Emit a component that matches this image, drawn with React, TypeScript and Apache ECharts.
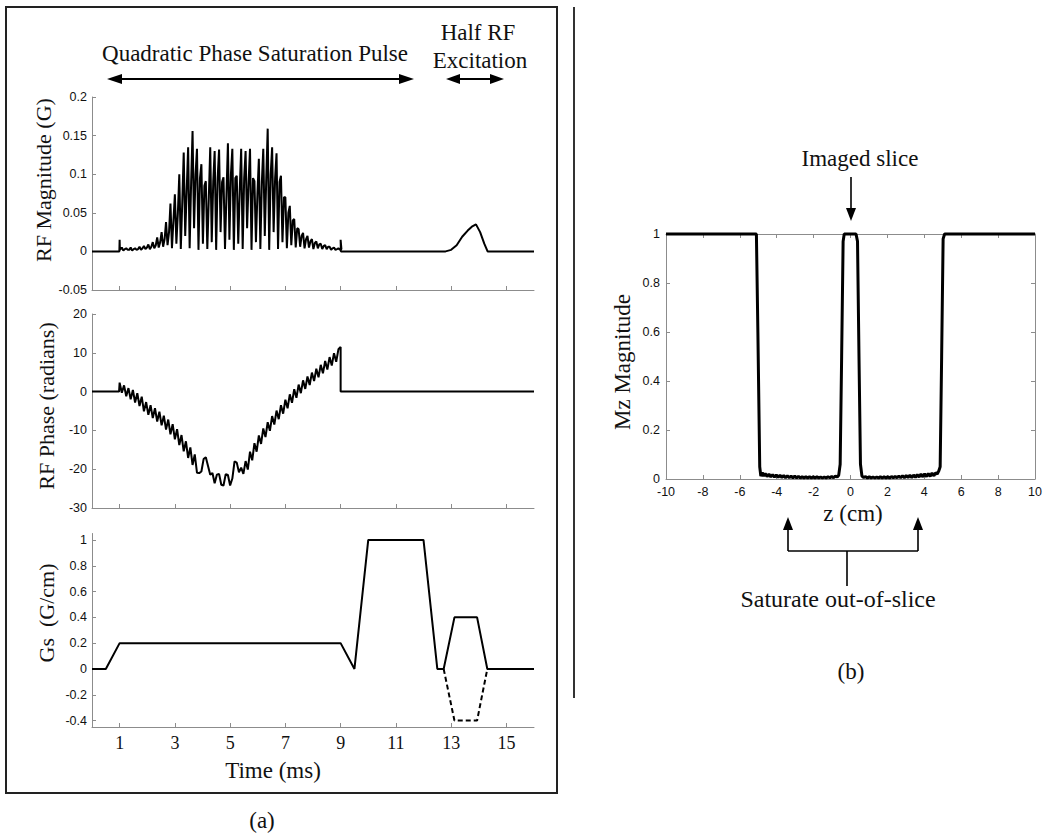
import React, { useEffect, useRef } from "react";
import * as echarts from "echarts";

const SERIF = '"Liberation Serif", "Times New Roman", serif';
const SANS = '"Liberation Sans", Arial, sans-serif';
const AXIS_GRAY = "#8c8c8c";

// ---------- Panel (a) data ----------
const timeTicks = [1, 3, 5, 7, 9, 11, 13, 15];
const gsTicks = [-0.4, -0.2, 0, 0.2, 0.4, 0.6, 0.8, 1];

// RF magnitude: peaks / troughs / shoulders of the saturation pulse, one cycle per 0.16 ms from 1.08 ms
const magStart = 1.08;
const magStep = 0.16;
const magPeaks = [
  0.005, 0.004, 0.005, 0.004, 0.006, 0.007, 0.009, 0.012, 0.018, 0.025,
  0.038, 0.062, 0.074, 0.1, 0.128, 0.135, 0.156, 0.133, 0.113, 0.091,
  0.135, 0.13, 0.132, 0.096, 0.14, 0.133, 0.098, 0.133, 0.13, 0.133,
  0.091, 0.12, 0.133, 0.159, 0.135, 0.127, 0.098, 0.07, 0.059, 0.042,
  0.029, 0.024, 0.02, 0.016, 0.013, 0.01, 0.008, 0.006, 0.005, 0.004,
];
const magTroughs = [
  0.001, 0.002, 0.001, 0.002, 0.002, 0.003, 0.003, 0.004, 0.005, 0.006,
  0.008, 0.004, 0.01, 0.003, 0.02, 0.004, 0.03, 0.002, 0.01, 0.003,
  0.012, 0.002, 0.025, 0.003, 0.015, 0.002, 0.01, 0.003, 0.03, 0.002,
  0.012, 0.003, 0.02, 0.002, 0.025, 0.003, 0.012, 0.004, 0.008, 0.005,
  0.006, 0.004, 0.005, 0.003, 0.004, 0.003, 0.003, 0.002, 0.002, 0.002,
];
const magShoulders = [
  0.003, 0.002, 0.003, 0.003, 0.004, 0.005, 0.006, 0.008, 0.012, 0.016,
  0.025, 0.04, 0.05, 0.065, 0.08, 0.09, 0.1, 0.095, 0.085, 0.07,
  0.09, 0.095, 0.09, 0.075, 0.1, 0.095, 0.08, 0.095, 0.09, 0.095,
  0.075, 0.09, 0.095, 0.1, 0.095, 0.09, 0.07, 0.05, 0.04, 0.03,
  0.02, 0.016, 0.013, 0.011, 0.009, 0.007, 0.006, 0.004, 0.003, 0.003,
];
const magEdgeSpike = 0.015;
// Half RF excitation pulse
const hrfT = [12.8, 13.0, 13.2, 13.4, 13.6, 13.75, 13.9, 14.05, 14.2, 14.32];
const hrfV = [0, 0.002, 0.008, 0.019, 0.027, 0.032, 0.035, 0.025, 0.01, 0];

// RF phase, sampled every 0.08 ms from 1.0 ms to 9.0 ms
const phaseStart = 1.0;
const phaseStep = 0.08;
const phaseWave = [
  2.3, -0.3, 1.6, -1.2, 0.9, -2.0, 0.4, -2.8, -0.4, -3.7,
  -1.3, -5.1, -2.7, -6.0, -3.5, -6.8, -4.3, -7.7, -5.2, -8.7,
  -6.2, -9.8, -7.2, -11.0, -8.4, -12.3, -9.7, -13.8, -11.2, -15.4,
  -12.8, -17.1, -14.4, -18.9, -16.2, -20.9, -21.0, -20.6, -17.4, -16.9,
  -19.2, -21.4, -21.0, -23.6, -21.4, -21.2, -24.0, -24.2, -21.3, -21.5,
  -24.2, -22.4, -18.0, -18.3, -20.8, -19.6, -21.2, -17.9, -20.1, -15.5,
  -17.7, -13.3, -15.5, -11.3, -13.5, -9.5, -11.7, -7.9, -10.1, -6.3,
  -8.5, -4.9, -7.1, -3.5, -5.7, -2.1, -4.3, -0.7, -2.9, 0.6,
  -1.6, 1.8, -0.4, 2.9, 0.7, 3.9, 1.7, 4.9, 2.7, 5.9,
  3.7, 6.9, 4.7, 7.9, 5.7, 8.9, 6.7, 9.9, 7.7, 10.9,
  11.5,
];

// Slice gradient
const gsT = [0, 0.5, 1.0, 9.0, 9.5, 10.0, 12.0, 12.5, 12.73, 13.12, 13.94, 14.31, 16];
const gsV = [0, 0, 0.2, 0.2, 0, 1, 1, 0, 0, 0.4, 0.4, 0, 0];
const gsAltT = [12.73, 13.12, 13.94, 14.31];
const gsAltV = [0, -0.4, -0.4, 0];

// ---------- Panel (b) data ----------
const mzZ = [
  -10, -5.1, -5.02, -4.92, -4.86,
  -4.78, -4.7, -4.62, -4.52, -4.42, -4.32, -4.22, -4.12, -4.02, -3.92,
  -3.82, -3.72, -3.62, -3.52, -3.42, -3.32, -3.22, -3.12, -3.02, -2.92,
  -2.82, -2.72, -2.62, -2.52, -2.42, -2.32, -2.22, -2.12, -2.02, -1.92,
  -1.82, -1.72, -1.62, -1.52, -1.42, -1.32, -1.22, -1.12, -1.02, -0.92,
  -0.82, -0.72, -0.64,
  -0.56, -0.48, -0.4, -0.34, 0.3, 0.38, 0.46, 0.54,
  0.62, 0.72, 0.82, 0.92, 1.02, 1.12, 1.22, 1.32, 1.42, 1.52,
  1.62, 1.72, 1.82, 1.92, 2.02, 2.12, 2.22, 2.32, 2.42, 2.52,
  2.62, 2.72, 2.82, 2.92, 3.02, 3.12, 3.22, 3.32, 3.42, 3.52,
  3.62, 3.72, 3.82, 3.92, 4.02, 4.12, 4.22, 4.32, 4.42, 4.52,
  4.62, 4.7, 4.78, 4.86, 4.94, 5.02, 5.1, 10,
];
const mzV = [
  1, 1, 0.6, 0.05, 0.012,
  0.026, 0.012, 0.022, 0.01, 0.02, 0.009, 0.018, 0.008, 0.016, 0.007,
  0.015, 0.006, 0.014, 0.005, 0.013, 0.005, 0.012, 0.004, 0.012, 0.004,
  0.011, 0.004, 0.01, 0.004, 0.01, 0.004, 0.009, 0.004, 0.009, 0.004,
  0.009, 0.004, 0.008, 0.004, 0.008, 0.004, 0.009, 0.005, 0.01, 0.005,
  0.012, 0.008, 0.015,
  0.06, 0.5, 0.97, 1, 1, 0.97, 0.5, 0.06,
  0.012, 0.006, 0.01, 0.004, 0.009, 0.004, 0.008, 0.004, 0.008, 0.004,
  0.009, 0.004, 0.009, 0.004, 0.01, 0.004, 0.01, 0.005, 0.011, 0.005,
  0.012, 0.005, 0.013, 0.005, 0.014, 0.006, 0.015, 0.006, 0.016, 0.007,
  0.018, 0.008, 0.02, 0.009, 0.021, 0.01, 0.022, 0.011, 0.024, 0.013,
  0.026, 0.02, 0.032, 0.05, 0.5, 0.98, 1, 1,
];

// ---------- build series data ----------
function buildMag(): number[][] {
  const pts: number[][] = [[0, 0], [0.99, 0], [1.0, magEdgeSpike], [1.01, 0.002]];
  magPeaks.forEach((p, i) => {
    const t = magStart + i * magStep;
    pts.push([t, p]);
    pts.push([t + magStep * 0.34, magTroughs[i]]);
    pts.push([t + magStep * 0.68, magShoulders[i]]);
  });
  pts.push([9.0, magEdgeSpike], [9.01, 0], [hrfT[0], 0]);
  hrfT.forEach((t, i) => pts.push([t, hrfV[i]]));
  pts.push([16, 0]);
  return pts;
}
function buildPhase(): number[][] {
  const pts: number[][] = [[0, 0], [0.98, 0]];
  phaseWave.forEach((v, i) => pts.push([phaseStart + i * phaseStep, v]));
  pts.push([9.0, 0], [16, 0]);
  return pts;
}
const zip = (a: number[], b: number[]) => a.map((x, i) => [x, b[i]]);

// ---------- graphic helpers ----------
function hArrow(x1: number, x2: number, y: number, hl = 15, hw = 5, lw = 2) {
  return [
    { type: "line", shape: { x1: x1 + hl - 2, y1: y, x2: x2 - hl + 2, y2: y }, style: { stroke: "#000", lineWidth: lw } },
    { type: "polygon", shape: { points: [[x1, y], [x1 + hl, y - hw], [x1 + hl, y + hw]] }, style: { fill: "#000" } },
    { type: "polygon", shape: { points: [[x2, y], [x2 - hl, y - hw], [x2 - hl, y + hw]] }, style: { fill: "#000" } },
  ];
}
function vArrow(x: number, yTail: number, yTip: number, hl = 13, hw = 5, lw = 1.6) {
  const dir = yTip > yTail ? 1 : -1;
  return [
    { type: "line", shape: { x1: x, y1: yTail, x2: x, y2: yTip - dir * (hl - 2) }, style: { stroke: "#000", lineWidth: lw } },
    { type: "polygon", shape: { points: [[x, yTip], [x - hw, yTip - dir * hl], [x + hw, yTip - dir * hl]] }, style: { fill: "#000" } },
  ];
}
function txt(text: string, x: number, y: number, size: number, rotation = 0) {
  return {
    type: "text",
    x,
    y,
    rotation,
    style: { text, font: `${size}px ${SERIF}`, fill: "#111", align: "center", verticalAlign: "middle" },
  };
}

const fmt = (v: number) => String(parseFloat(v.toFixed(2)));

function timeAxis(gridIndex: number, labels: boolean) {
  return {
    type: "value",
    gridIndex,
    min: 0,
    max: 16,
    axisLine: { show: true, onZero: false, lineStyle: { color: AXIS_GRAY, width: 1 } },
    axisTick: { show: true, inside: true, length: 4, customValues: timeTicks, lineStyle: { color: AXIS_GRAY } },
    axisLabel: {
      show: labels,
      customValues: timeTicks,
      fontFamily: SERIF,
      fontSize: 18,
      color: "#111",
      margin: 7,
    },
    splitLine: { show: false },
  };
}
function yAx(gridIndex: number, extra: any) {
  return {
    type: "value",
    gridIndex,
    axisLine: { show: true, onZero: false, lineStyle: { color: AXIS_GRAY, width: 1 } },
    axisTick: { show: true, inside: true, length: 4, lineStyle: { color: AXIS_GRAY } },
    axisLabel: { fontFamily: SANS, fontSize: 12.5, color: "#111", margin: 5, formatter: fmt },
    splitLine: { show: false },
    ...extra,
  };
}

export default function App() {
  const ref = useRef<HTMLDivElement>(null);
  useEffect(() => {
    if (!ref.current) return;
    const chart = echarts.init(ref.current, undefined, { renderer: "svg" });
    const line = (xi: number, data: number[][], width: number, extra: any = {}) => ({
      type: "line",
      xAxisIndex: xi,
      yAxisIndex: xi,
      data,
      showSymbol: false,
      symbol: "none",
      sampling: undefined,
      lineStyle: { color: "#000", width },
      ...extra,
    });
    const option: any = {
      animation: false,
      backgroundColor: "#fff",
      grid: [
        { left: 92, top: 97, width: 442, height: 193 },
        { left: 92, top: 314, width: 442, height: 194 },
        { left: 92, top: 533.5, width: 442, height: 193.5 },
        { left: 666, top: 234, width: 369, height: 245 },
      ],
      xAxis: [
        timeAxis(0, false),
        timeAxis(1, false),
        timeAxis(2, true),
        {
          type: "value",
          gridIndex: 3,
          min: -10,
          max: 10,
          interval: 2,
          axisLine: { show: true, onZero: false, lineStyle: { color: AXIS_GRAY } },
          axisTick: { show: true, inside: true, length: 4, lineStyle: { color: AXIS_GRAY } },
          axisLabel: { fontFamily: SANS, fontSize: 12.5, color: "#111", margin: 6 },
          splitLine: { show: false },
        },
        {
          type: "value",
          gridIndex: 3,
          position: "top",
          min: -10,
          max: 10,
          interval: 2,
          axisLine: { show: true, onZero: false, lineStyle: { color: AXIS_GRAY } },
          axisTick: { show: true, inside: true, length: 4, lineStyle: { color: AXIS_GRAY } },
          axisLabel: { show: false },
          splitLine: { show: false },
        },
      ],
      yAxis: [
        yAx(0, { min: -0.05, max: 0.2, interval: 0.05 }),
        yAx(1, { min: -30, max: 20, interval: 10 }),
        yAx(2, {
          min: -0.45,
          max: 1.05,
          axisTick: { show: true, inside: true, length: 4, customValues: gsTicks, lineStyle: { color: AXIS_GRAY } },
          axisLabel: { fontFamily: SANS, fontSize: 12.5, color: "#111", margin: 5, customValues: gsTicks, formatter: fmt },
        }),
        yAx(3, { min: 0, max: 1, interval: 0.2, axisLabel: { fontFamily: SANS, fontSize: 12.5, color: "#111", margin: 6, formatter: fmt } }),
        yAx(3, { min: 0, max: 1, interval: 0.2, position: "right", axisLabel: { show: false } }),
      ],
      series: [
        line(0, buildMag(), 2),
        line(1, buildPhase(), 2),
        line(2, zip(gsT, gsV), 2),
        line(2, zip(gsAltT, gsAltV), 2, { lineStyle: { color: "#000", width: 2, type: [5, 3] } }),
        line(3, zip(mzZ, mzV), 3, { clip: false }),
      ],
      graphic: [
        { type: "rect", shape: { x: 6, y: 7, width: 551, height: 786 }, style: { fill: "none", stroke: "#222", lineWidth: 2 } },
        { type: "line", shape: { x1: 574, y1: 7, x2: 574, y2: 698 }, style: { stroke: "#333", lineWidth: 2 } },
        txt("Quadratic Phase Saturation Pulse", 255, 53, 23),
        ...hArrow(107, 414, 79),
        txt("Half RF", 478, 32, 23),
        txt("Excitation", 480, 60, 23),
        ...hArrow(446, 504, 79, 14),
        txt("RF Magnitude (G)", 43, 180, 22, Math.PI / 2),
        txt("RF Phase (radians)", 46, 406, 22, Math.PI / 2),
        txt("Gs  (G/cm)", 46, 613, 22, Math.PI / 2),
        txt("Time (ms)", 273, 770, 23),
        txt("(a)", 262, 820, 23),
        txt("Imaged slice", 860, 158, 23),
        ...vArrow(851, 177, 221),
        txt("Mz Magnitude", 622, 362, 23, Math.PI / 2),
        txt("z (cm)", 853, 513, 23),
        ...vArrow(788, 551, 517),
        ...vArrow(918, 551, 517),
        { type: "line", shape: { x1: 788, y1: 551, x2: 918, y2: 551 }, style: { stroke: "#000", lineWidth: 1.6 } },
        { type: "line", shape: { x1: 847, y1: 551, x2: 847, y2: 586 }, style: { stroke: "#000", lineWidth: 1.6 } },
        txt("Saturate out-of-slice", 838, 599, 24),
        txt("(b)", 851, 671, 23),
      ],
    };
    chart.setOption(option);
    return () => chart.dispose();
  }, []);
  return (
    <div
      ref={ref}
      style={{ position: "fixed", left: 0, top: 0, width: 1050, height: 836, background: "#fff" }}
    />
  );
}
